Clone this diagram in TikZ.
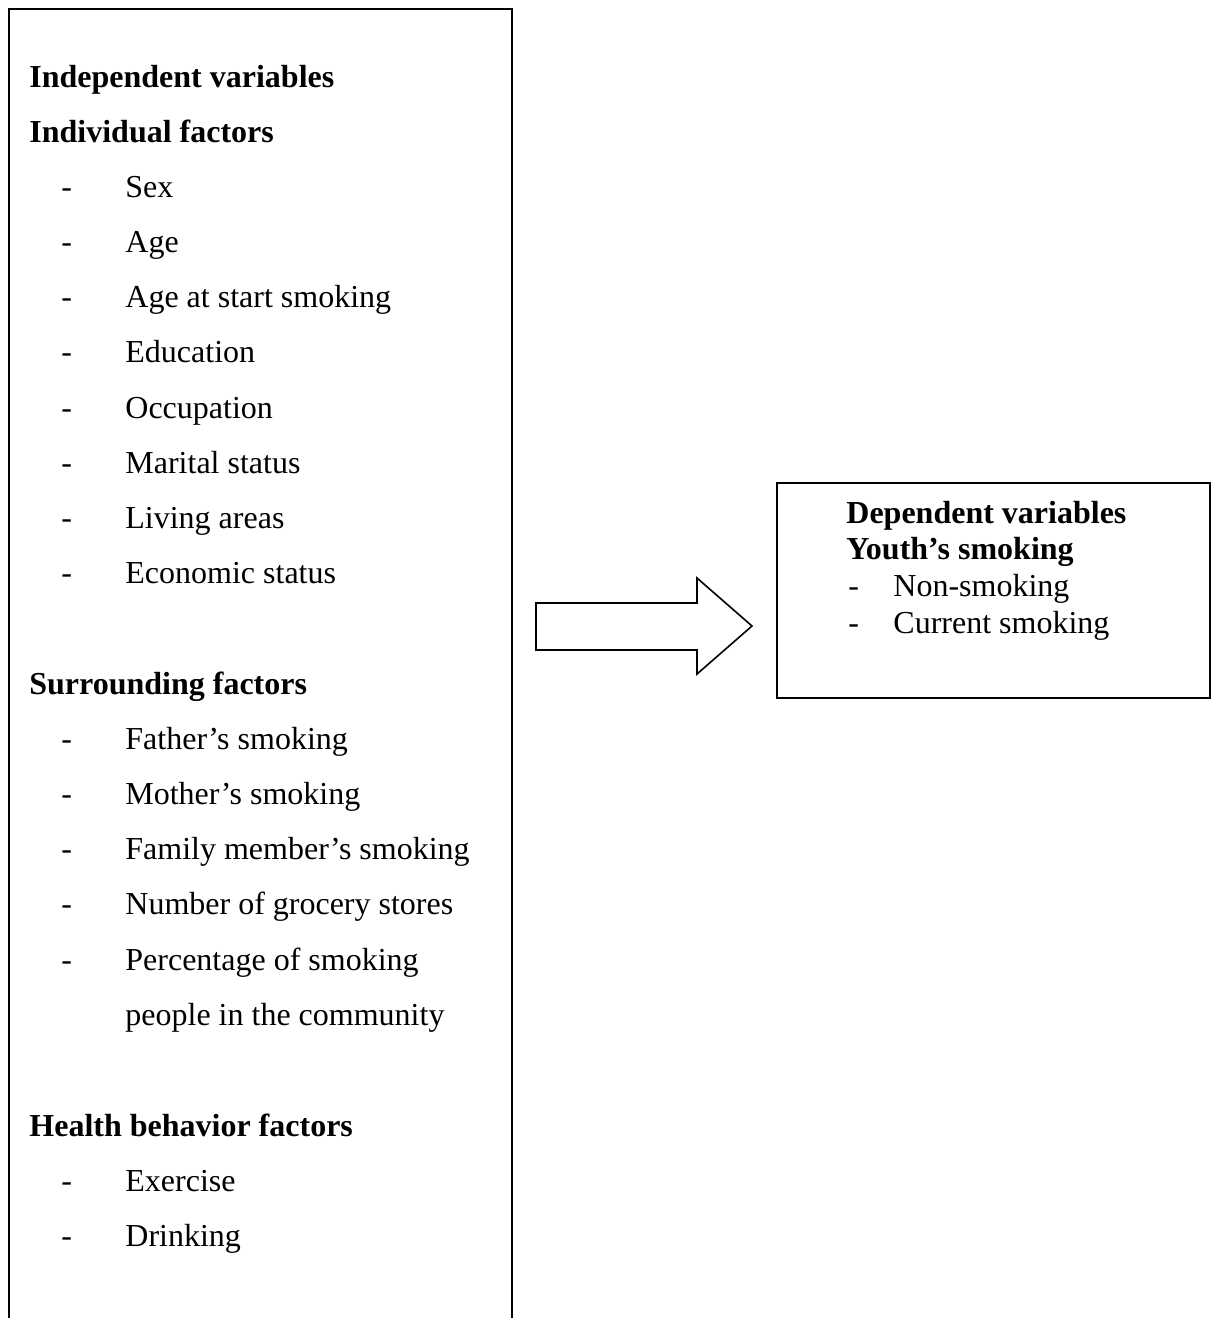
\documentclass[tikz,border=0pt]{standalone}
\usepackage{fontspec}
\setmainfont{Liberation Serif}
\begin{document}
\begin{tikzpicture}[x=0.5pt,y=-0.5pt,
  boxline/.style={draw=black,line width=1pt},
  lhead/.style={anchor=base west,inner sep=0pt,font=\fontsize{16}{19}\selectfont\bfseries},
  litem/.style={anchor=base west,inner sep=0pt,font=\fontsize{16}{19}\selectfont},
  rhead/.style={anchor=base west,inner sep=0pt,font=\fontsize{16}{19}\selectfont\bfseries},
  ritem/.style={anchor=base west,inner sep=0pt,font=\fontsize{16}{19}\selectfont}]
\useasboundingbox (0,0) rectangle (1211,1318);
\clip (0,0) rectangle (1211,1318);
% left box
\draw[boxline] (512,1340) -- (512,9) -- (9,9) -- (9,1340);
% headers and items, left
\node[lhead] (h1) at (29,87) {Independent variables};
\node[lhead] (h2) at (29,142) {Individual factors};
\foreach \t [count=\i] in {Sex,Age,Age at start smoking,Education,Occupation,Marital status,Living areas,Economic status}{
  \node[litem] (d\i) at (61,{142+55.2*\i}) {-};
  \node[litem] (a\i) at (125,{142+55.2*\i}) {\t};
}
\node[lhead] (h3) at (29,694) {Surrounding factors};
\foreach \t [count=\i] in {Father’s smoking,Mother’s smoking,Family member’s smoking,Number of grocery stores,Percentage of smoking}{
  \node[litem] (e\i) at (61,{694+55.2*\i}) {-};
  \node[litem] (b\i) at (125,{694+55.2*\i}) {\t};
}
\node[litem] (b6) at (125,1025) {people in the community};
\node[lhead] (h4) at (29,1136) {Health behavior factors};
\node[litem] (f1) at (61,1191) {-};
\node[litem] (c1) at (125,1191) {Exercise};
\node[litem] (f2) at (61,1246) {-};
\node[litem] (c2) at (125,1246) {Drinking};
% block arrow
\draw[boxline,line width=0.8pt] (536,603) -- (697,603) -- (697,578) -- (752,626) -- (697,674) -- (697,650) -- (536,650) -- cycle;
% right box
\node[boxline,draw,minimum width=216.5pt,minimum height=107.5pt,anchor=north west,inner sep=0pt] (rb) at (776,482) {};
\node[rhead] (r1) at (846,523) {Dependent variables};
\node[rhead] (r2) at (846,559) {Youth’s smoking};
\node[ritem] (rd1) at (848,596) {-};
\node[ritem] (r3) at (893,596) {Non-smoking};
\node[ritem] (rd2) at (848,633) {-};
\node[ritem] (r4) at (893,633) {Current smoking};
\end{tikzpicture}
\end{document}
